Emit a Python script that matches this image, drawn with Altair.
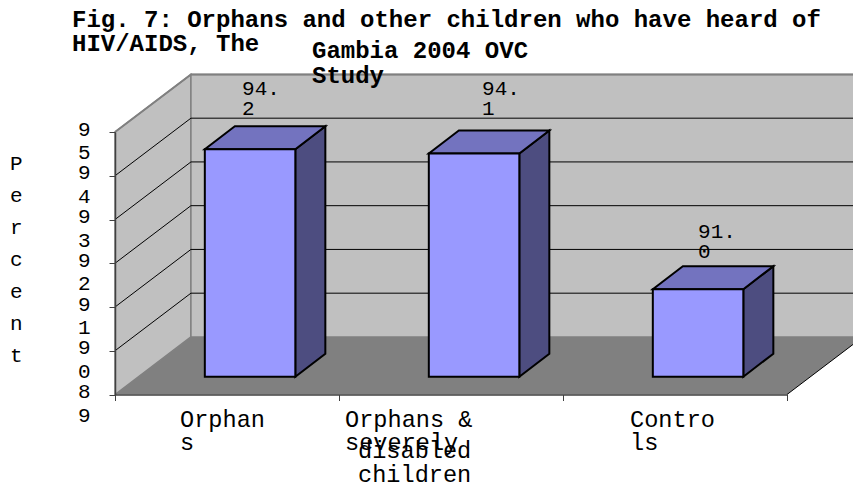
import altair as alt
import pandas as pd

CATEGORIES = ["Orphans", "Orphans & severely disabled children", "Controls"]
VALUES = [94.2, 94.1, 91.0]
Y_TICKS = [89, 90, 91, 92, 93, 94, 95]
X_TICKS = [0, 1, 2, 3]
TITLE_MAIN = "Fig. 7: Orphans and other children who have heard of\nHIV/AIDS, The"
TITLE_TAIL = "Gambia 2004 OVC\nStudy"
Y_TITLE = "P\ne\nr\nc\ne\nn\nt"

FONT = "Liberation Mono"
Y_MIN, Y_MAX = 89, 95
X_MAX = 3

# Oblique projection of the chart box, in axis units
BOX_DX = 0.339
BOX_DY = 1.316
# Bars stand part-way into the box and have their own depth
BAR_WIDTH = 0.404
BAR_SHIFT_X = 0.103
BAR_SHIFT_Y = 0.407
BAR_DX = 0.134
BAR_DY = 0.526

x_scale = alt.Scale(domain=[0, X_MAX], nice=False, zero=False)
y_scale = alt.Scale(domain=[Y_MIN, Y_MAX], nice=False, zero=False)
X = alt.X("x:Q", scale=x_scale, title=None)
Y = alt.Y("y:Q", scale=y_scale, title=None)

left_wall = alt.Chart(pd.DataFrame({
    "x": [0, BOX_DX],
    "y": [Y_MAX, Y_MAX + BOX_DY],
    "y2": [Y_MIN, Y_MIN + BOX_DY],
})).mark_area(fill="#c0c0c0", stroke="#808080", strokeWidth=1.5).encode(x=X, y=Y, y2="y2:Q")

back_wall = alt.Chart(pd.DataFrame({
    "x": [BOX_DX], "x2": [X_MAX + BOX_DX],
    "y": [Y_MAX + BOX_DY], "y2": [Y_MIN + BOX_DY],
})).mark_rect(fill="#c0c0c0", stroke="#808080", strokeWidth=1.5).encode(x=X, x2="x2:Q", y=Y, y2="y2:Q")

floor = alt.Chart(pd.DataFrame({
    "y": [Y_MIN, Y_MIN + BOX_DY],
    "x": [0, BOX_DX],
    "x2": [X_MAX, X_MAX + BOX_DX],
})).mark_area(orient="horizontal", fill="#808080").encode(y=Y, x=X, x2="x2:Q")

# Each gridline runs up the left wall, then along the back wall
grid_rows = []
for tick in Y_TICKS:
    path = [(0, tick), (BOX_DX, tick + BOX_DY), (X_MAX + BOX_DX, tick + BOX_DY)]
    for k, (gx, gy) in enumerate(path):
        grid_rows.append({"tick": tick, "k": k, "x": gx, "y": gy})
grid_df = pd.DataFrame(grid_rows)
grid = alt.Chart(grid_df[grid_df["tick"].between(Y_MIN + 1, Y_MAX - 1)]).mark_line(
    color="#000000", strokeWidth=1).encode(x=X, y=Y, detail="tick:N", order="k:Q")
wall_top = alt.Chart(grid_df[grid_df["tick"] == Y_MAX]).mark_line(
    color="#808080", strokeWidth=2).encode(x=X, y=Y, order="k:Q")

floor_edge = alt.Chart(pd.DataFrame({
    "x": [X_MAX, X_MAX + BOX_DX], "y": [Y_MIN, Y_MIN + BOX_DY],
})).mark_line(color="#000000", strokeWidth=1).encode(x=X, y=Y)

front_rows, side_rows, top_rows = [], [], []
for i, value in enumerate(VALUES):
    x0 = i + 0.5 - BAR_WIDTH / 2 + BAR_SHIFT_X
    x1 = x0 + BAR_WIDTH
    top = value + BAR_SHIFT_Y
    bottom = Y_MIN + BAR_SHIFT_Y
    front_rows.append({"bar": i, "x": x0, "x2": x1, "y": top, "y2": bottom})
    side_rows += [
        {"bar": i, "x": x1, "y": top, "y2": bottom},
        {"bar": i, "x": x1 + BAR_DX, "y": top + BAR_DY, "y2": bottom + BAR_DY},
    ]
    top_rows += [
        {"bar": i, "y": top, "x": x0, "x2": x1},
        {"bar": i, "y": top + BAR_DY, "x": x0 + BAR_DX, "x2": x1 + BAR_DX},
    ]

BAR_STROKE = dict(stroke="#000000", strokeWidth=2, strokeJoin="miter")
bar_side = alt.Chart(pd.DataFrame(side_rows)).mark_area(fill="#4d4d80", **BAR_STROKE).encode(
    x=X, y=Y, y2="y2:Q", detail="bar:N")
bar_top = alt.Chart(pd.DataFrame(top_rows)).mark_area(orient="horizontal", fill="#7373bf", **BAR_STROKE).encode(
    y=Y, x=X, x2="x2:Q", detail="bar:N")
bar_front = alt.Chart(pd.DataFrame(front_rows)).mark_rect(fill="#9999ff", **BAR_STROKE).encode(
    x=X, x2="x2:Q", y=Y, y2="y2:Q")

# Axes carry the ticks; each two-digit label stacks its digits
axes = alt.Chart(pd.DataFrame({"x": [0, X_MAX], "y": [Y_MIN, Y_MAX]})).mark_point(opacity=0).encode(
    x=alt.X("x:Q", scale=x_scale, axis=alt.Axis(
        values=X_TICKS, labels=False, title=None, grid=False, tickSize=6, zindex=1,
        domainColor="#404040", tickColor="#404040", domainWidth=1.5)),
    y=alt.Y("y:Q", scale=y_scale, axis=alt.Axis(
        values=Y_TICKS, title=None, grid=False, tickSize=6, zindex=1,
        domainColor="#404040", tickColor="#404040", domainWidth=1.5,
        labelExpr="split(datum.label, '')", labelFont=FONT, labelFontSize=21,
        labelColor="#000000", labelPadding=19, labelLineHeight=23.7,
        labelBaseline="middle", labelOffset=-3, labelOverlap=False)),
)


def label_text(text, px, py, size, line_height, weight="normal"):
    """Free text block placed in pixels from the plot origin."""
    return alt.Chart(pd.DataFrame({"t": [text]})).mark_text(
        font=FONT, fontSize=size, fontWeight=weight, lineBreak="\n", lineHeight=line_height,
        align="left", baseline="alphabetic", color="#000000",
    ).encode(text="t:N", x=alt.value(px), y=alt.value(py))


def value_label(i, dx, dy):
    """Value label tied to its bar through the axis scales, wrapped after the point."""
    whole, frac = f"{VALUES[i]:.1f}".split(".")
    frame = pd.DataFrame({
        "x": [i + 0.5 + BAR_SHIFT_X], "y": [VALUES[i] + BAR_SHIFT_Y], "t": [f"{whole}.\n{frac}"],
    })
    return alt.Chart(frame).mark_text(
        font=FONT, fontSize=21, lineBreak="\n", lineHeight=20, align="left",
        baseline="alphabetic", color="#000000", dx=dx, dy=dy,
    ).encode(x=X, y=Y, text="t:N")


def category_label(i, text, dx, py):
    frame = pd.DataFrame({"x": [i + 0.5], "t": [text]})
    return alt.Chart(frame).mark_text(
        font=FONT, fontSize=23.6, lineBreak="\n", lineHeight=23.7, align="left",
        baseline="alphabetic", color="#000000", dx=dx,
    ).encode(x=X, y=alt.value(py), text="t:N")


texts = [
    label_text(TITLE_MAIN, -43, -105, 24, 23.5, "bold"),
    label_text(TITLE_TAIL, 197, -74, 24, 24.5, "bold"),
    label_text(Y_TITLE, -105, 38, 21, 32),
    value_label(0, -8, -54),
    value_label(1, 8, -59),
    value_label(2, 0, -51),
    category_label(0, "Orphan\ns", -47, 294.7),
    category_label(1, "Orphans &\nseverely", -106, 294.7),
    category_label(1, "disabled\nchildren", -93, 326),
    category_label(2, "Contro\nls", -45, 294.7),
]

chart = alt.layer(
    axes, left_wall, back_wall, floor, grid, wall_top, floor_edge,
    bar_side, bar_top, bar_front, *texts,
).properties(
    width=672,
    height=262.5,
    padding={"left": 115, "top": 132, "right": 66, "bottom": 90.5},
    autosize=alt.AutoSizeParams(type="none"),
    background="#ffffff",
).configure_view(stroke=None)

chart.save("out.html", embed_options={"renderer": "svg", "actions": False})
